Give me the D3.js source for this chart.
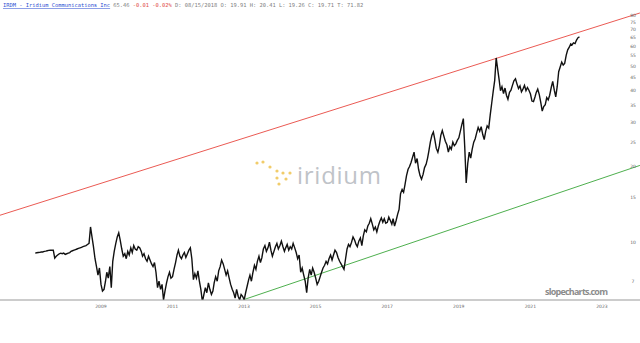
<!DOCTYPE html>
<html>
<head>
<meta charset="utf-8">
<script src="https://cdn.jsdelivr.net/npm/d3@7"></script>
<style>
  body { margin: 0; background: #fff; }
  svg { display: block; }
</style>
</head>
<body>
<div id="app"></div>
<script>
// semi-monthly closes, starting March 2008
const startDate = new Date(2008, 2, 1)
const p2008 = [9.05, 9.08, 9.1, 9.12, 9.15, 9.15, 9.2, 9.22, 9.25, 9.28, 9.3, 9.3, 9.3, 8.65, 8.8, 8.9, 9.0, 9.05, 9.0, 9.05]
const p2009 = [8.95, 9.0, 9.05, 9.1, 9.2, 9.25, 9.3, 9.35, 9.4, 9.45, 9.5, 9.55, 9.6, 9.65, 9.7, 9.8, 9.9, 11.5, 10.5, 9.6, 8.6, 8.0, 7.4, 7.9]
const p2010 = [6.8, 6.4, 6.5, 7.0, 7.6, 7.2, 8.0, 6.6, 8.4, 9.2, 9.9, 10.5, 10.9, 10.2, 9.4, 8.8, 9.0, 8.6, 9.2, 8.9, 9.5, 9.1, 9.7, 9.4]
const p2011 = [9.3, 9.6, 9.5, 9.2, 8.8, 9.0, 8.6, 8.4, 8.8, 8.5, 8.2, 8.0, 8.3, 7.6, 6.6, 7.0, 6.5, 6.8, 5.9, 6.4, 6.9, 7.3, 7.6, 7.2]
const p2012 = [7.3, 7.8, 8.3, 8.9, 9.3, 8.8, 8.6, 8.9, 9.1, 8.7, 9.0, 9.3, 9.5, 8.6, 7.1, 7.5, 7.2, 7.7, 7.0, 6.5, 5.8, 6.2, 6.6, 6.3]
const p2013 = [6.9, 6.5, 6.2, 6.4, 6.9, 7.3, 7.0, 7.7, 8.0, 8.5, 8.2, 7.8, 7.4, 7.7, 7.2, 6.8, 6.5, 6.3, 6.0, 6.5, 6.1, 5.9, 6.2, 6.1]
const p2014 = [5.9, 6.3, 6.7, 7.1, 7.4, 7.0, 7.6, 8.1, 7.8, 8.4, 8.8, 8.3, 8.7, 9.4, 9.7, 9.2, 9.5, 10.0, 9.3, 8.8, 9.2, 9.6, 9.9, 9.4]
const p2015 = [9.7, 10.1, 9.6, 9.2, 9.5, 9.8, 9.3, 9.6, 9.4, 9.9, 9.5, 9.1, 8.6, 8.9, 7.6, 7.9, 7.4, 7.0, 6.3, 7.2, 7.8, 7.4, 7.9, 7.6]
const p2016 = [7.2, 6.8, 7.0, 7.3, 7.6, 7.9, 8.1, 8.4, 8.2, 8.6, 8.9, 8.5, 8.9, 9.3, 9.1, 8.7, 8.4, 8.2, 8.0, 7.8, 8.6, 9.4, 9.8, 9.6]
const p2017 = [10.0, 10.5, 10.2, 9.8, 9.6, 10.1, 10.4, 9.7, 10.6, 11.2, 11.0, 11.6, 11.9, 12.4, 11.8, 11.2, 11.5, 11.0, 11.6, 12.1, 12.5, 12.0, 12.4, 11.9]
const p2018 = [12.0, 12.6, 12.2, 11.8, 12.4, 11.6, 12.2, 12.9, 13.5, 15.6, 16.2, 15.8, 17.0, 18.4, 19.5, 20.0, 20.8, 21.8, 22.8, 20.6, 21.5, 19.5, 18.4, 17.8]
const p2019 = [18.6, 19.8, 20.4, 21.6, 23.0, 25.0, 26.6, 27.4, 25.6, 23.6, 22.8, 24.2, 26.6, 27.8, 26.4, 25.2, 24.4, 22.8, 24.0, 23.4, 25.0, 24.2, 24.6, 25.4]
const p2020 = [26.0, 27.6, 29.4, 31.0, 24.0, 17.2, 20.6, 22.8, 21.6, 23.4, 25.0, 25.8, 27.2, 28.6, 27.6, 28.8, 26.8, 25.6, 27.6, 29.0, 28.4, 32.0, 35.6, 39.6]
const p2021 = [44.0, 54.0, 48.5, 44.0, 40.0, 41.5, 39.0, 41.0, 38.4, 37.0, 39.4, 40.2, 42.0, 43.8, 44.6, 42.6, 40.8, 41.8, 39.6, 40.6, 42.0, 40.0, 41.2, 40.2]
const p2022 = [38.8, 36.4, 36.2, 37.8, 39.4, 40.6, 38.6, 36.0, 33.2, 34.6, 35.2, 37.6, 36.8, 38.4, 41.2, 43.6, 40.2, 37.8, 41.6, 47.6, 49.8, 52.0, 50.6, 51.4]
const p2023 = [55.4, 58.2, 59.6, 61.4, 60.8, 62.0, 61.6, 63.6, 65.0, 65.46]

const prices = [].concat(p2008, p2009, p2010, p2011, p2012, p2013, p2014, p2015,
  p2016, p2017, p2018, p2019, p2020, p2021, p2022, p2023)

const yTicks = [80, 75, 70, 65, 60, 55, 50, 45, 40, 35, 30, 25, 20, 15, 10, 7]
// year labels sit at the end of each labelled year
const xTicks = ['2009', '2011', '2013', '2015', '2017', '2019', '2021', '2023']

// trend lines: [date, price] end points
const redLine = [['2007-03-06', 12.8], ['2025-01-22', 81.5]]
const greenLine = [['2013-12-20', 5.9], ['2025-01-22', 20.2]]

const header = [
  { t: 'IRDM - Iridium Communications Inc', c: '#2d4fd2', u: true },
  { t: ' 65.46 ', c: '#808080' },
  { t: '-0.01 -0.02%', c: '#e0493f' },
  { t: ' D: 08/15/2018 O: 19.91 H: 20.41 L: 19.26 C: 19.71 T: 71.82', c: '#808080' }
]

const width = 640
const height = 343
const axisY = 300

const svg = d3.select('#app').append('svg')
  .attr('width', width)
  .attr('height', height)
  .style('background', '#fff')

const x = d3.scaleTime()
  .domain([new Date(2010, 0, 1), new Date(2024, 0, 1)])
  .range([101, 602])

const y = d3.scaleLog()
  .domain([80, 5])
  .range([15, 318])

const data = prices.map((p, i) => {
  let d = new Date(startDate)
  d.setMonth(startDate.getMonth() + Math.floor(i / 2))
  d.setDate(i % 2 === 0 ? 1 : 16)
  return { date: d, price: p }
})

svg.append('defs').append('clipPath')
  .attr('id', 'plot')
  .append('rect')
  .attr('x', 0).attr('y', 0)
  .attr('width', width).attr('height', axisY)

// watermark logo
const logo = svg.append('g').attr('class', 'logo')
const dots = [[257, 163], [263, 162], [270, 167], [277, 171], [283, 173], [290, 173], [277, 178], [286, 179], [279, 184]]
logo.selectAll('circle')
  .data(dots)
  .enter()
  .append('circle')
  .attr('cx', d => d[0])
  .attr('cy', d => d[1])
  .attr('r', 1.6)
  .attr('fill', '#f1cc6a')
logo.append('text')
  .attr('x', 297)
  .attr('y', 184)
  .attr('font-family', 'Open Sans, sans-serif')
  .attr('font-size', 24)
  .attr('textLength', 84)
  .attr('fill', '#bfc3c8')
  .text('iridium')

svg.append('text')
  .attr('x', 545)
  .attr('y', 295)
  .attr('font-family', 'Open Sans, sans-serif')
  .attr('font-weight', 'bold')
  .attr('font-size', 9)
  .attr('textLength', 63)
  .attr('fill', '#8c8c8c')
  .text('slopecharts.com')

// trend lines
const lineGen = d3.line()
  .x(d => x(new Date(d[0])))
  .y(d => y(d[1]))

svg.append('path')
  .attr('clip-path', 'url(#plot)')
  .attr('d', lineGen(redLine))
  .attr('fill', 'none')
  .attr('stroke', '#e8473f')
  .attr('stroke-width', 0.9)

svg.append('path')
  .attr('clip-path', 'url(#plot)')
  .attr('d', lineGen(greenLine))
  .attr('fill', 'none')
  .attr('stroke', '#3aa63a')
  .attr('stroke-width', 0.9)

// price
svg.append('path')
  .datum(data)
  .attr('clip-path', 'url(#plot)')
  .attr('d', d3.line().x(d => x(d.date)).y(d => y(d.price)))
  .attr('fill', 'none')
  .attr('stroke', '#111')
  .attr('stroke-width', 1.4)
  .attr('stroke-linejoin', 'miter')

// y axis labels
svg.append('g')
  .selectAll('text')
  .data(yTicks)
  .enter()
  .append('text')
  .attr('x', 633)
  .attr('y', d => y(d) + 1.5)
  .attr('text-anchor', 'middle')
  .attr('font-family', 'DejaVu Sans, sans-serif')
  .attr('font-size', 4.5)
  .attr('fill', '#666')
  .text(d => d)

// x axis
svg.append('line')
  .attr('x1', 0).attr('x2', width)
  .attr('y1', axisY).attr('y2', axisY)
  .attr('stroke', '#999')
  .attr('stroke-width', 1)

svg.append('g')
  .selectAll('text')
  .data(xTicks)
  .enter()
  .append('text')
  .attr('x', d => x(new Date(+d, 11, 31)))
  .attr('y', axisY + 8)
  .attr('text-anchor', 'middle')
  .attr('font-family', 'DejaVu Sans, sans-serif')
  .attr('font-size', 4.5)
  .attr('fill', '#666')
  .text(d => d)

// header
const head = svg.append('text')
  .attr('x', 3)
  .attr('y', 7)
  .attr('font-family', 'DejaVu Sans Mono, monospace')
  .attr('font-size', 5.4)
  .attr('xml:space', 'preserve')
head.selectAll('tspan')
  .data(header)
  .enter()
  .append('tspan')
  .attr('fill', d => d.c)
  .attr('text-decoration', d => d.u ? 'underline' : null)
  .text(d => d.t)
</script>
</body>
</html>
